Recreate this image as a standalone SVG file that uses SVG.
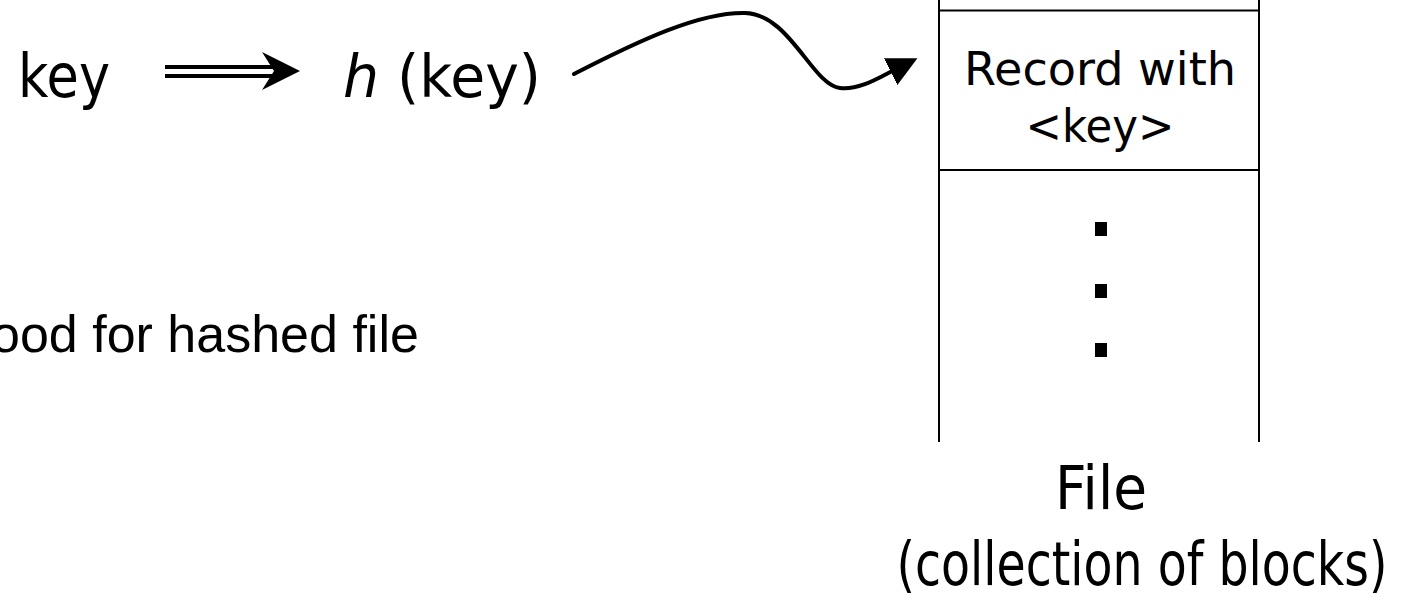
<svg xmlns="http://www.w3.org/2000/svg" width="1403" height="597" viewBox="0 0 1403 597">
  <style>
    .t { font-family: "DejaVu Sans", "Liberation Sans", sans-serif; fill: #000; }
    .a { font-family: "Liberation Sans", Arial, sans-serif; fill: #000; }
    .ln { stroke: #000; stroke-width: 2; fill: none; }
    .wire { stroke: #000; stroke-width: 4; fill: none; stroke-linecap: round; }
  </style>
  <defs>
    <marker id="head" viewBox="0 0 10 10" refX="2" refY="5" markerWidth="7.5" markerHeight="7.5" markerUnits="strokeWidth" orient="auto">
      <path d="M0,0 L10,5 L0,10 Z" fill="#000"/>
    </marker>
  </defs>
  <rect width="1403" height="597" fill="#fff"/>

  <!-- key and its hash value -->
  <g id="key">
    <text class="t" x="18" y="97" font-size="60" textLength="92" lengthAdjust="spacingAndGlyphs">key</text>
  </g>
  <g id="hash">
    <text class="t" x="343" y="97" font-size="59" textLength="198" lengthAdjust="spacingAndGlyphs"><tspan font-style="italic">h</tspan> (key)</text>
  </g>

  <g id="note">
    <text class="a" x="-9" y="352" font-size="52">ood for hashed file</text>
  </g>

  <!-- file as a stack of blocks -->
  <g id="file">
    <line class="ln" x1="939" y1="0" x2="939" y2="442"/>
    <line class="ln" x1="1259" y1="0" x2="1259" y2="442"/>
    <line class="ln" x1="939" y1="10.5" x2="1259" y2="10.5"/>
    <line class="ln" x1="939" y1="170" x2="1259" y2="170"/>
    <text class="t" x="1100" y="85" font-size="46" text-anchor="middle" textLength="272" lengthAdjust="spacingAndGlyphs">Record with</text>
    <text class="t" x="1100" y="142" font-size="46" text-anchor="middle" textLength="149" lengthAdjust="spacingAndGlyphs">&lt;key&gt;</text>
    <rect x="1095" y="222" width="12" height="14" fill="#000"/>
    <rect x="1095" y="284" width="12" height="14" fill="#000"/>
    <rect x="1095" y="343" width="12" height="14" fill="#000"/>
  </g>
  <g id="caption">
    <text class="t" x="1101" y="509" font-size="60" text-anchor="middle" textLength="92" lengthAdjust="spacingAndGlyphs">File</text>
    <text class="t" x="1142" y="585" font-size="60" text-anchor="middle" textLength="491" lengthAdjust="spacingAndGlyphs">(collection of blocks)</text>
  </g>

  <!-- connectors -->
  <g id="connectors">
    <line x1="165" y1="67" x2="280" y2="67" stroke="#000" stroke-width="4"/>
    <line x1="165" y1="76" x2="280" y2="76" stroke="#000" stroke-width="4"/>
    <path d="M300,71 L262,52 L274,71 L262,90 Z" fill="#000"/>
    <path class="wire" d="M574,74 C640,40 700,12 745,13 C790,14 812,85 840,88 C860,90 878,78 896,69" marker-end="url(#head)"/>
  </g>
</svg>
